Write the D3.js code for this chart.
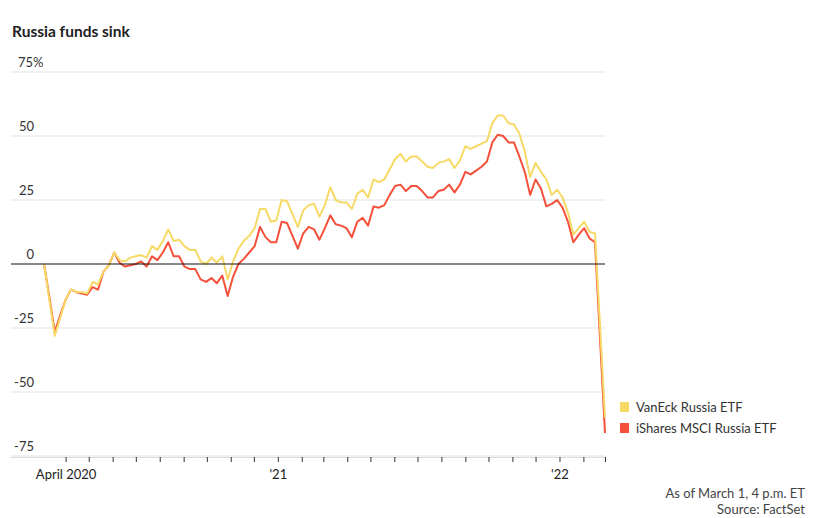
<!DOCTYPE html>
<html>
<head>
<meta charset="utf-8">
<script src="https://cdn.jsdelivr.net/npm/d3@7"></script>
<style>
  body { margin: 0; background: #fff; font-family: Lato, "Open Sans", sans-serif; }
</style>
</head>
<body>
<svg id="chart" width="822" height="518"></svg>
<script>
// weekly closes, % change since March 4, 2020; last point is March 1, 2022
const vanEck = [0, -14, -28, -21, -14, -10, -11, -11, -11.5, -7, -8, -3, -0.5, 4.5, 1.5, 1, 2.5, 3, 3.5, 2.5,
  7, 5.5, 9, 13.5, 9, 9.5, 7, 5.5, 5.5, 1, 0, 2.5, 0.5, 3, -6, 1, 6, 9, 11,
  14, 21.5, 21.5, 16.5, 17, 25, 24.5, 19.5, 14.5, 21, 23, 23.5, 18.5, 23, 30, 25, 24, 24, 21.5, 27.5,
  29, 26, 33, 32, 33, 37, 41, 43, 40, 42, 42, 40, 38, 37.5, 39.5, 40, 41, 37.5, 40.5, 46,
  45, 46, 47, 48, 55, 58, 58, 55, 54.5, 51, 44, 34, 39.5, 36, 33, 27, 29, 26, 20, 11.5,
  14, 16.5, 12.5, 12, -60];
const iShares = [0, -13, -26.5, -20, -14, -10, -11, -11.5, -12, -9, -10, -3, -0.5, 4.5, 0.5, -1, -0.5, 0, 1, -1,
  3, 1.5, 4.5, 8.5, 3, 3, -1, -2, -2, -6, -7, -5.5, -7.5, -4.5, -12.5, -5, 0, 2, 4.5,
  7, 14.5, 10.5, 8.5, 8.5, 16.5, 16, 11, 6, 12, 14.5, 13.5, 9.5, 14, 19, 15.5, 15, 14, 10.5, 16.5,
  18, 15, 22.5, 22, 23, 27, 30.5, 31, 28.5, 30.5, 30.5, 28.5, 26, 26, 28.5, 29, 31, 28, 31, 36,
  35, 36.5, 38, 40, 47.5, 50.5, 50, 47.5, 47.5, 42, 36, 27, 33, 29.5, 22.5, 23.5, 25, 22, 16.5, 8.5,
  11.5, 14, 10, 8.5, -66];
const seriesNames = ['VanEck Russia ETF', 'iShares MSCI Russia ETF'];
const seriesColors = ['#f7d966', '#f4503a'];
const yTicks = [75, 50, 25, 0, -25, -50, -75];

const start = new Date(2020, 2, 4);
const end = new Date(2022, 2, 1);
// weekly dates, the last value is the March 1 close
const dates = vanEck.map((d, i) => i === vanEck.length - 1 ? end : d3.timeDay.offset(start, 7 * i));

const svg = d3.select('#chart');
const x = d3.scaleTime().domain([start, end]).range([44, 605]);
const y = d3.scaleLinear().domain([-75, 75]).range([456, 72]);

svg.append('text').attr('x', 12).attr('y', 37)
  .attr('font-size', 15.5).attr('font-weight', 700).attr('fill', '#222')
  .text('Russia funds sink');

// grid
svg.append('g').selectAll('line').data(yTicks.filter(d => d !== 0)).join('line')
  .attr('x1', 11).attr('x2', 605)
  .attr('y1', d => y(d)).attr('y2', d => y(d))
  .attr('stroke', '#e2e2e2');

svg.append('g').selectAll('text').data(yTicks).join('text')
  .attr('x', d => d === 75 ? 18 : 34).attr('y', d => y(d) - 5)
  .attr('font-size', 13).attr('fill', '#333')
  .attr('text-anchor', d => d === 75 ? 'start' : 'end')
  .text(d => d === 75 ? '75%' : d);

// x axis
const xAxis = d3.axisBottom(x)
  .ticks(d3.timeMonth.every(1))
  .tickSize(5)
  .tickFormat(d => d.getMonth() === 3 && d.getFullYear() === 2020 ? 'April 2020'
    : d.getMonth() === 0 ? "'" + String(d.getFullYear()).slice(2) : '');
const gx = svg.append('g').attr('transform', 'translate(0,457)').call(xAxis);
gx.select('.domain').attr('d', 'M11,0.5H605').attr('stroke', '#ddd');
gx.selectAll('.tick line').attr('stroke', '#333');
gx.selectAll('.tick text').attr('font-family', 'Lato, sans-serif').attr('font-size', 13)
  .attr('fill', '#222').attr('dy', '1.1em');

// lines: red first, yellow on top
const line = d3.line().x((d, i) => x(dates[i])).y(d => y(d));
[iShares, vanEck].forEach((s, k) => {
  svg.append('path').datum(s).attr('d', line)
    .attr('fill', 'none').attr('stroke', seriesColors[1 - k])
    .attr('stroke-width', 2).attr('stroke-linejoin', 'round');
});

svg.append('line').attr('x1', 11).attr('x2', 605)
  .attr('y1', y(0)).attr('y2', y(0)).attr('stroke', '#111');

// legend
const lg = svg.append('g').selectAll('g').data(seriesNames).join('g')
  .attr('transform', (d, i) => `translate(620,${402 + i * 21})`);
lg.append('rect').attr('width', 9).attr('height', 10).attr('fill', (d, i) => seriesColors[i]);
lg.append('text').attr('x', 16).attr('y', 10).attr('font-size', 13).attr('fill', '#333').text(d => d);

svg.append('text').attr('x', 805).attr('y', 498).attr('text-anchor', 'end')
  .attr('font-size', 13).attr('fill', '#444').text('As of March 1, 4 p.m. ET');
svg.append('text').attr('x', 805).attr('y', 514).attr('text-anchor', 'end')
  .attr('font-size', 13).attr('fill', '#444').text('Source: FactSet');
</script>
</body>
</html>
